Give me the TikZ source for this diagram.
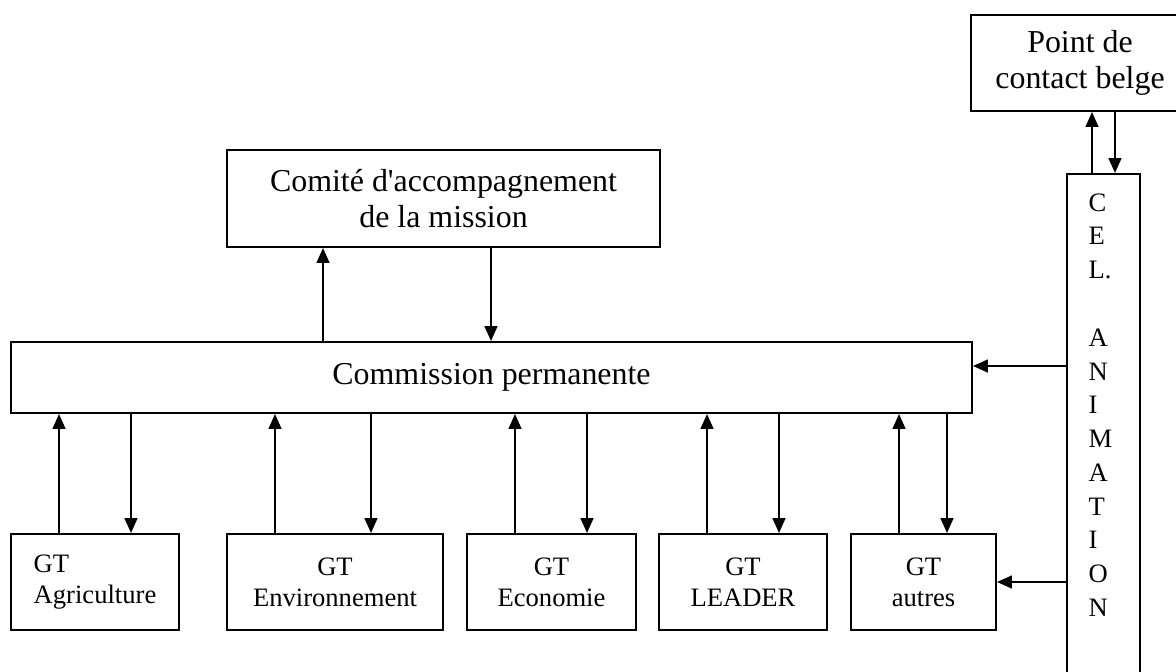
\documentclass[tikz,border=0pt]{standalone}
\usepackage{fontspec}
\setmainfont{Liberation Serif}
\usepackage{tikz}
\usetikzlibrary{arrows.meta}

\tikzset{
  box/.style={rectangle, draw=black, line width=0.75pt, inner sep=0pt, align=center},
  big/.style={font=\fontsize{12pt}{13.8pt}\selectfont},
  small/.style={font=\fontsize{10pt}{11.7pt}\selectfont},
  arr/.style={line width=0.75pt, -{Triangle[length=5.6pt, width=4.8pt]}}
}

\begin{document}
\begin{tikzpicture}[x=0.376pt, y=-0.376pt]
            \useasboundingbox (0,0) rectangle (1176,671);

            \node[box, big, minimum width=82pt, minimum height=36.1pt] (point) at (1080, 63) {Point de\\contact belge};
            \node[box, big, minimum width=162.8pt, minimum height=36.5pt] (comite) at (443.5, 198.5) {Comit\'e d\textquotesingle accompagnement\\de la mission};
            \node[box, big, minimum width=361.3pt, minimum height=26.7pt] (commission) at (491.5, 377.5) {Commission permanente};
            \node[box, minimum width=27.4pt, minimum height=197.8pt] (cel) at (1103.5, 437) {};
            \node[align=left, inner sep=0pt, anchor=north west, font=\fontsize{10pt}{12.7pt}\selectfont] (celtext) at (1088, 193) {C\\E\\L.\\[12.7pt]A\\N\\I\\M\\A\\T\\I\\O\\N};

            \node[box, small, align=left, minimum width=63.2pt, minimum height=36.1pt] (agri) at (95, 582) {GT\\Agriculture};
            \node[box, small, minimum width=81.2pt, minimum height=36.1pt] (env) at (335, 582) {GT\\Environnement};
            \node[box, small, minimum width=63.5pt, minimum height=36.1pt] (eco) at (551.5, 582) {GT\\Economie};
            \node[box, small, minimum width=63.2pt, minimum height=36.1pt] (leader) at (743, 582) {GT\\LEADER};
            \node[box, small, minimum width=54.5pt, minimum height=36.1pt] (autres) at (923.5, 582) {GT\\autres};

            \draw[arr] (commission.north -| 323,0) -- (comite.south -| 323,0);
            \draw[arr] (comite.south -| 491,0) -- (commission.north -| 491,0);
            \draw[arr] (cel.north -| 1092,0) -- (point.south -| 1092,0);
            \draw[arr] (point.south -| 1115,0) -- (cel.north -| 1115,0);
            \draw[arr] (cel.west |- 0,366) -- (commission.east |- 0,366);
            \draw[arr] (cel.west |- autres) -- (autres.east);

            \draw[arr] (agri.north -| 59,0) -- (commission.south -| 59,0);
            \draw[arr] (commission.south -| 131,0) -- (agri.north -| 131,0);
            \draw[arr] (env.north -| 275,0) -- (commission.south -| 275,0);
            \draw[arr] (commission.south -| 371,0) -- (env.north -| 371,0);
            \draw[arr] (eco.north -| 515,0) -- (commission.south -| 515,0);
            \draw[arr] (commission.south -| 587,0) -- (eco.north -| 587,0);
            \draw[arr] (leader.north -| 707,0) -- (commission.south -| 707,0);
            \draw[arr] (commission.south -| 779,0) -- (leader.north -| 779,0);
            \draw[arr] (autres.north -| 899,0) -- (commission.south -| 899,0);
            \draw[arr] (commission.south -| 947,0) -- (autres.north -| 947,0);
\end{tikzpicture}
\end{document}
